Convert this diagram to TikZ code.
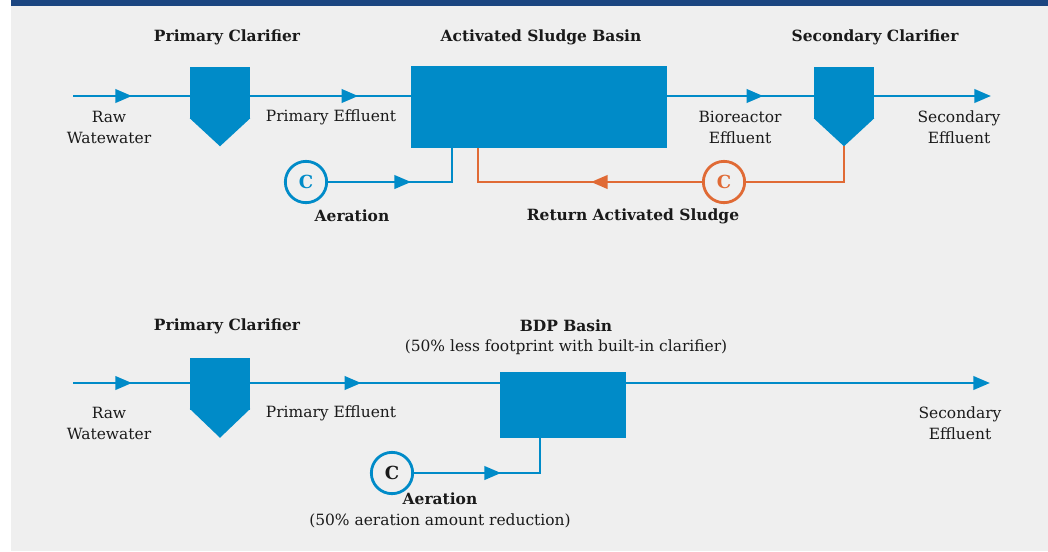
\documentclass[tikz,border=0pt]{standalone}
\usepackage{fontspec}
\setmainfont{DejaVu Serif}
\usetikzlibrary{arrows.meta,decorations.markings,calc}
\definecolor{cblue}{RGB}{0,139,200}
\definecolor{corange}{RGB}{224,106,53}
\definecolor{bgray}{RGB}{239,239,239}
\definecolor{hdr}{RGB}{27,69,128}
\definecolor{txt}{RGB}{26,26,26}
\begin{document}
\begin{tikzpicture}[x=0.75pt,y=-0.75pt,
  flow/.style={cblue,line width=2.1pt},
  rflow/.style={corange,line width=2.1pt},
  endarrow/.style={-{Triangle[length=12.5pt,width=10pt]}},
  midarrow/.style={postaction={decorate},decoration={markings,mark=at position #1 with {\arrow{Triangle[length=12.5pt,width=10pt]}}}},
  clar/.style={rectangle,fill=cblue,minimum width=45pt,minimum height=39pt,inner sep=0pt},
  basin/.style={rectangle,fill=cblue,inner sep=0pt},
  circ/.style={circle,line width=2.1pt,minimum size=31pt,inner sep=0pt,font=\fontsize{13.5}{14}\selectfont\bfseries},
  lbl/.style={text=txt,align=center,inner sep=0pt,font=\fontsize{11.6}{15.75}\selectfont},
  head/.style={text=txt,align=center,inner sep=0pt,font=\fontsize{11.6}{15.75}\selectfont\bfseries}
]
\useasboundingbox (0,0) rectangle (1048,551);
\fill[white] (0,0) rectangle (1048,551);
\fill[bgray] (11,6) rectangle (1048,551);
\fill[hdr] (11,0) rectangle (1048,6);

% ---------- top process ----------
\coordinate (raw1) at (73,96);
\coordinate (out1) at (991,96);
\node[clar] (pc1) at (220,93) {};
\fill[cblue] ($(pc1.south west)+(0,-1)$) -- ($(pc1.south east)+(0,-1)$) -- ($(pc1.south)+(0,27)$) -- cycle;
\node[basin,minimum width=192pt,minimum height=61.5pt] (bas1) at (539,107) {};
\node[clar] (sc1) at (844,93) {};
\fill[cblue] ($(sc1.south west)+(0,-1)$) -- ($(sc1.south east)+(0,-1)$) -- ($(sc1.south)+(0,27)$) -- cycle;
\coordinate (sc1tip) at ($(sc1.south)+(0,27)$);
\node[circ,draw=cblue,fill=bgray,text=cblue] (c1) at (306,182) {C};
\node[circ,draw=corange,fill=bgray,text=corange] (c2) at (724,182) {C};
\coordinate (ret1) at (478,182);
\coordinate (aer1) at (452,182);

\draw[flow,midarrow=44.25pt] (raw1) -- (raw1 -| pc1.west);
\draw[flow,midarrow=81pt] (raw1 -| pc1.east) -- (raw1 -| bas1.west);
\draw[flow,midarrow=72pt] (raw1 -| bas1.east) -- (raw1 -| sc1.west);
\draw[flow,endarrow] (raw1 -| sc1.east) -- (out1);
\draw[flow,midarrow=62.25pt] (c1.east) -- (aer1) -- (aer1 |- bas1.south);
\draw[rflow] (sc1tip) -- (sc1tip |- c2) -- (c2.east);
\draw[rflow,midarrow=83.25pt] (c2.west) -- (ret1) -- (ret1 |- bas1.south);

\node[head] (h1) at (227,37) {Primary Clarifier};
\node[head] (h2) at (541,37) {Activated Sludge Basin};
\node[head] (h3) at (875,37) {Secondary Clarifier};
\node[lbl] (l1) at (109,127) {Raw\\Watewater};
\node[lbl] (l2) at (331,117) {Primary Effluent};
\node[lbl] (l3) at (740,127) {Bioreactor\\Effluent};
\node[lbl] (l4) at (959,127) {Secondary\\Effluent};
\node[head] (l5) at (352,216) {Aeration};
\node[head] (l6) at (633,216) {Return Activated Sludge};

% ---------- bottom process ----------
\coordinate (raw2) at (73,383);
\coordinate (out2) at (990,383);
\node[clar] (pc2) at (220,383.5) {};
\fill[cblue] ($(pc2.south west)+(0,-1)$) -- ($(pc2.south east)+(0,-1)$) -- ($(pc2.south)+(0,28)$) -- cycle;
\node[basin,minimum width=94.5pt,minimum height=49.5pt] (bas2) at (563,405) {};
\node[circ,draw=cblue,fill=bgray,text=txt] (c3) at (392,473) {C};
\coordinate (aer2) at (540,473);

\draw[flow,midarrow=44.25pt] (raw2) -- (raw2 -| pc2.west);
\draw[flow,midarrow=83.25pt] (raw2 -| pc2.east) -- (raw2 -| bas2.west);
\draw[flow,endarrow] (raw2 -| bas2.east) -- (out2);
\draw[flow,midarrow=65.25pt] (c3.east) -- (aer2) -- (aer2 |- bas2.south);

\node[head] (h4) at (227,326) {Primary Clarifier};
\node[head] (h5) at (566,326) {BDP Basin};
\node[lbl] (h6) at (566,347) {(50\% less footprint with built-in clarifier)};
\node[lbl] (l7) at (109,423) {Raw\\Watewater};
\node[lbl] (l8) at (331,413) {Primary Effluent};
\node[lbl] (l9) at (960,423) {Secondary\\Effluent};
\node[head] (l10) at (440,499) {Aeration};
\node[lbl] (l11) at (440,521) {(50\% aeration amount reduction)};
\end{tikzpicture}
\end{document}
